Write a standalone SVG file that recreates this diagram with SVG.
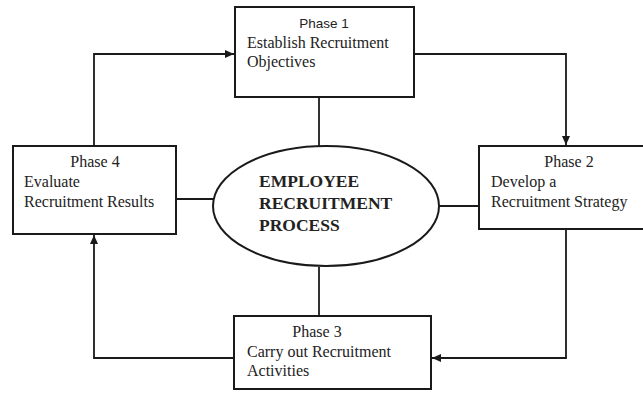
<svg xmlns="http://www.w3.org/2000/svg" width="643" height="400" viewBox="0 0 643 400">
<style>
.box{fill:#fff;stroke:#1a1a1a;stroke-width:2}
.ln{fill:none;stroke:#1a1a1a;stroke-width:1.8}
.t{font-family:"Liberation Serif","Times New Roman",serif;font-size:16px;fill:#222}
.s{font-family:"Liberation Sans",Arial,sans-serif;font-size:13.5px;fill:#222}
.b{font-family:"Liberation Serif","Times New Roman",serif;font-size:17.5px;font-weight:bold;fill:#222}
</style>
<defs>
<marker id="ah" viewBox="0 0 10 10" refX="10" refY="5" markerWidth="9" markerHeight="8" markerUnits="userSpaceOnUse" orient="auto" preserveAspectRatio="none">
<path d="M0,0 L10,5 L0,10 Z" fill="#1a1a1a"/>
</marker>
</defs>
<g id="connectors">
<line class="ln" x1="319" y1="97" x2="319" y2="146"/>
<line class="ln" x1="319" y1="267" x2="319" y2="316"/>
<line class="ln" x1="176" y1="199" x2="213" y2="199"/>
<line class="ln" x1="439" y1="206" x2="479" y2="206"/>
<polyline class="ln" points="94,146 94,54 234,54" marker-end="url(#ah)"/>
<polyline class="ln" points="414,54 566,54 566,145" marker-end="url(#ah)"/>
<polyline class="ln" points="566,229 566,358 432,358" marker-end="url(#ah)"/>
<polyline class="ln" points="234,358 94,358 94,235" marker-end="url(#ah)"/>
</g>
<g id="phase1">
<rect class="box" x="235" y="7" width="179" height="90"/>
<text class="s" x="324" y="28" text-anchor="middle">Phase 1</text>
<text class="t" x="247" y="48">Establish Recruitment</text>
<text class="t" x="247" y="67">Objectives</text>
</g>
<g id="phase2">
<rect class="box" x="479" y="146" width="170" height="83"/>
<text class="t" x="569" y="167" text-anchor="middle">Phase 2</text>
<text class="t" x="491" y="187">Develop a</text>
<text class="t" x="491" y="207">Recruitment Strategy</text>
</g>
<g id="phase3">
<rect class="box" x="234" y="316" width="197" height="73"/>
<text class="t" x="317" y="337" text-anchor="middle">Phase 3</text>
<text class="t" x="247" y="357">Carry out Recruitment</text>
<text class="t" x="247" y="376">Activities</text>
</g>
<g id="phase4">
<rect class="box" x="13" y="146" width="163" height="88"/>
<text class="t" x="95" y="167" text-anchor="middle">Phase 4</text>
<text class="t" x="24" y="187">Evaluate</text>
<text class="t" x="24" y="207">Recruitment Results</text>
</g>
<g id="center">
<ellipse class="box" cx="326" cy="206" rx="113" ry="60"/>
<text class="b" x="259" y="187">EMPLOYEE</text>
<text class="b" x="259" y="209">RECRUITMENT</text>
<text class="b" x="259" y="231">PROCESS</text>
</g>
</svg>
